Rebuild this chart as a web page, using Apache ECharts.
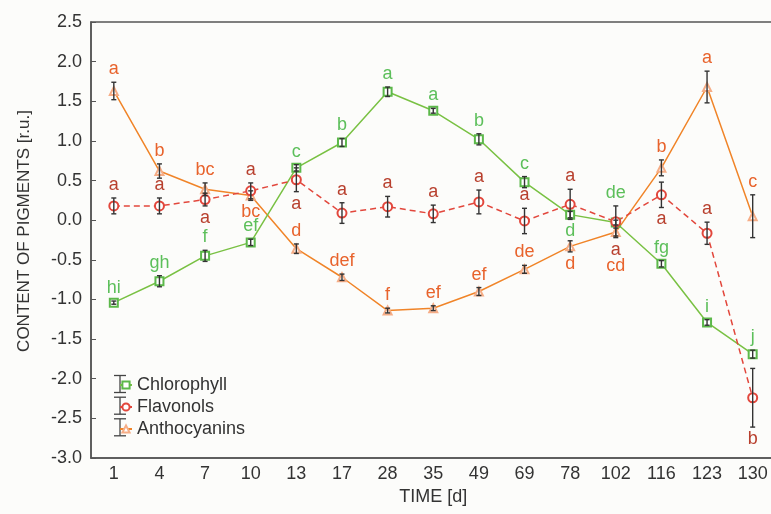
<!DOCTYPE html>
<html><head><meta charset="utf-8">
<script src="https://cdn.jsdelivr.net/npm/echarts@6/dist/echarts.min.js"></script>
<style>html,body{margin:0;padding:0;background:#fcfcfa;overflow:hidden;width:771px;height:514px}#c{width:777px;height:514px}</style>
</head><body><div id="c"></div>
<script>
// ---- data ----
const days = ['1','4','7','10','13','17','28','35','49','69','78','102','116','123','130'];
const chlorophyll    = [-1.04,-0.77,-0.45,-0.28,0.66,0.98,1.62,1.38,1.02,0.48,0.07,-0.03,-0.55,-1.29,-1.69];
const chlorophyllErr = [0.02,0.07,0.07,0.04,0.04,0.05,0.06,0.03,0.07,0.07,0.04,0.03,0.04,0.035,0.05];
const flavonols      = [0.18,0.18,0.26,0.37,0.51,0.09,0.17,0.08,0.23,-0.01,0.20,-0.02,0.32,-0.165,-2.24];
const flavonolsErr   = [0.10,0.10,0.08,0.10,0.15,0.13,0.13,0.11,0.15,0.16,0.19,0.20,0.16,0.14,0.37];
const anthocyanins   = [1.63,0.62,0.39,0.31,-0.36,-0.72,-1.14,-1.11,-0.90,-0.62,-0.33,-0.15,0.66,1.68,0.05];
const anthocyaninsErr= [0.11,0.09,0.08,0.06,0.06,0.04,0.03,0.03,0.05,0.05,0.07,0.05,0.10,0.20,0.27];
const chlorophyllLetters  = ['hi','gh','f','ef','c','b','a','a','b','c','d','de','fg','i','j'];
const flavonolsLetters    = ['a','a','a','a','a','a','a','a','a','a','a','a','a','a','b'];
const anthocyaninsLetters = ['a','b','bc','bc','d','def','f','ef','ef','de','d','cd','b','a','c'];
// letter side: 'up' = above the error bar, 'down' = below
const chlorophyllSide  = ['up','up','up','up','up','up','up','up','up','up','down','up','up','up','up'];
const flavonolsSide    = ['up','up','down','up','down','up','up','up','up','up','up','down','down','up','down'];
const anthocyaninsSide = ['up','up','up','down','up','up','up','up','up','up','down','down','up','up','up'];
const yTicks = {min:-3.0, max:2.5, step:0.5};

// ---- styles ----
const FONT = '"Liberation Sans", Arial, sans-serif';
const COL = {
  chl:'#79c143', chlMark:'#5cb84a', chlText:'#5cbf5a',
  fla:'#e2473c', flaText:'#b8402e',
  ant:'#f08428', antMark:'#f6ad86', antText:'#e8632c'
};
const groups = [
  {vals:chlorophyll, err:chlorophyllErr, letters:chlorophyllLetters, side:chlorophyllSide, color:COL.chlText},
  {vals:flavonols, err:flavonolsErr, letters:flavonolsLetters, side:flavonolsSide, color:COL.flaText},
  {vals:anthocyanins, err:anthocyaninsErr, letters:anthocyaninsLetters, side:anthocyaninsSide, color:COL.antText}
];

function errRender(params, api){
  const x = api.value(0), v = api.value(1), e = api.value(2);
  const hi = api.coord([x, v+e]), lo = api.coord([x, v-e]);
  const w = 2.5, st = {stroke:'#333', lineWidth:1.4};
  return {type:'group', children:[
    {type:'line', shape:{x1:hi[0],y1:hi[1],x2:lo[0],y2:lo[1]}, style:st},
    {type:'line', shape:{x1:hi[0]-w,y1:hi[1],x2:hi[0]+w,y2:hi[1]}, style:st},
    {type:'line', shape:{x1:lo[0]-w,y1:lo[1],x2:lo[0]+w,y2:lo[1]}, style:st}
  ]};
}

function labelRender(params, api){
  const i = api.value(0);
  const bars = groups.map(g => ({lo:g.vals[i]-g.err[i], hi:g.vals[i]+g.err[i]}));
  const LH = 16, GAPUP = 4, GAPDN = 3;
  const items = [];
  groups.forEach((g, s) => {
    let lo = bars[s].lo, hi = bars[s].hi, changed = true;
    while (changed) {
      changed = false;
      bars.forEach(b => {
        if (b.lo <= hi && b.hi >= lo && (b.lo < lo || b.hi > hi)) {
          lo = Math.min(lo, b.lo); hi = Math.max(hi, b.hi); changed = true;
        }
      });
    }
    const up = g.side[i] === 'up';
    const px = api.coord([i, up ? hi : lo]);
    items.push({s, up, x:px[0], y: up ? px[1]-GAPUP : px[1]+GAPDN, text:g.letters[i], color:g.color, v:g.vals[i]});
  });
  const ups = items.filter(t=>t.up).sort((a,b)=>b.y-a.y);
  for (let k=1;k<ups.length;k++){ if (ups[k].y > ups[k-1].y - LH) ups[k].y = ups[k-1].y - LH; }
  const dns = items.filter(t=>!t.up).sort((a,b)=> (a.y-b.y) || (b.v-a.v));
  for (let k=1;k<dns.length;k++){ if (dns[k].y < dns[k-1].y + LH) dns[k].y = dns[k-1].y + LH; }
  return {type:'group', children: items.map(t => ({
    type:'text', style:{text:t.text, x:t.x, y:t.y, fill:t.color, font:'18px '+FONT,
      align:'center', verticalAlign: t.up ? 'bottom' : 'top'}
  }))};
}

const chart = echarts.init(document.getElementById('c'), null, {renderer:'canvas'});
const idx = days.map((d,i)=>i);
const legendRows = [384, 405.7, 427.3];
chart.setOption({
  backgroundColor:'#fcfcfa',
  animation:false,
  textStyle:{fontFamily:FONT},
  grid:{left:91, top:22, width:684.5, height:436, show:true, borderColor:'#555', borderWidth:1.5, backgroundColor:'transparent'},
  xAxis:{type:'category', data:days, boundaryGap:true,
    axisLine:{onZero:false, lineStyle:{color:'#555', width:1.5}},
    axisTick:{inside:true, alignWithLabel:true, length:5, lineStyle:{color:'#555'}},
    axisLabel:{color:'#333', fontSize:18, margin:7, fontFamily:FONT},
    name:'TIME [d]', nameLocation:'middle', nameGap:30,
    nameTextStyle:{color:'#333', fontSize:18, fontFamily:FONT},
    splitLine:{show:false}},
  yAxis:{type:'value', min:yTicks.min, max:yTicks.max, interval:yTicks.step,
    axisLine:{show:true, lineStyle:{color:'#555', width:1.5}},
    axisTick:{show:true, inside:true, length:5, lineStyle:{color:'#555'}},
    axisLabel:{color:'#333', fontSize:18, margin:9, fontFamily:FONT, formatter:v=>v.toFixed(1)},
    name:'CONTENT OF PIGMENTS [r.u.]', nameLocation:'middle', nameGap:58,
    nameTextStyle:{color:'#333', fontSize:17, fontFamily:FONT, padding:[0,0,0,18]},
    splitLine:{show:false}},
  legend:{orient:'vertical', left:114, top:371, itemWidth:12, itemHeight:9, itemGap:4,
    textStyle:{color:'#333', fontSize:18, fontFamily:FONT},
    data:['Chlorophyll','Flavonols','Anthocyanins']},
  graphic: legendRows.map(cy => ({type:'group', z:1, children:[
    {type:'line', shape:{x1:120,y1:cy-8.5,x2:120,y2:cy+8.5}, style:{stroke:'#444', lineWidth:1.3}},
    {type:'line', shape:{x1:114,y1:cy-8.5,x2:126,y2:cy-8.5}, style:{stroke:'#444', lineWidth:1.3}},
    {type:'line', shape:{x1:114,y1:cy+8.5,x2:126,y2:cy+8.5}, style:{stroke:'#444', lineWidth:1.3}}
  ]})),
  series:[
    {name:'Chlorophyll', type:'line', data:chlorophyll, symbol:'emptyRect', symbolSize:8, z:3,
      lineStyle:{color:COL.chl, width:1.5}, itemStyle:{color:COL.chlMark, borderWidth:1.3}},
    {name:'Flavonols', type:'line', data:flavonols, symbol:'emptyCircle', symbolSize:9, z:3,
      lineStyle:{color:COL.fla, width:1.5, type:[6,4]}, itemStyle:{color:COL.fla, borderWidth:1.3}},
    {name:'Anthocyanins', type:'line', data:anthocyanins, symbol:'emptyTriangle', symbolSize:8, z:2,
      lineStyle:{color:COL.ant, width:1.5}, itemStyle:{color:COL.antMark, borderWidth:1.2}},
    {type:'custom', renderItem:errRender, z:5, silent:true,
      data:idx.map(i=>[i, chlorophyll[i], chlorophyllErr[i]])},
    {type:'custom', renderItem:errRender, z:5, silent:true,
      data:idx.map(i=>[i, flavonols[i], flavonolsErr[i]])},
    {type:'custom', renderItem:errRender, z:5, silent:true,
      data:idx.map(i=>[i, anthocyanins[i], anthocyaninsErr[i]])},
    {type:'custom', renderItem:labelRender, z:6, silent:true, data:idx.map(i=>[i, 0])}
  ]
});
</script></body></html>
